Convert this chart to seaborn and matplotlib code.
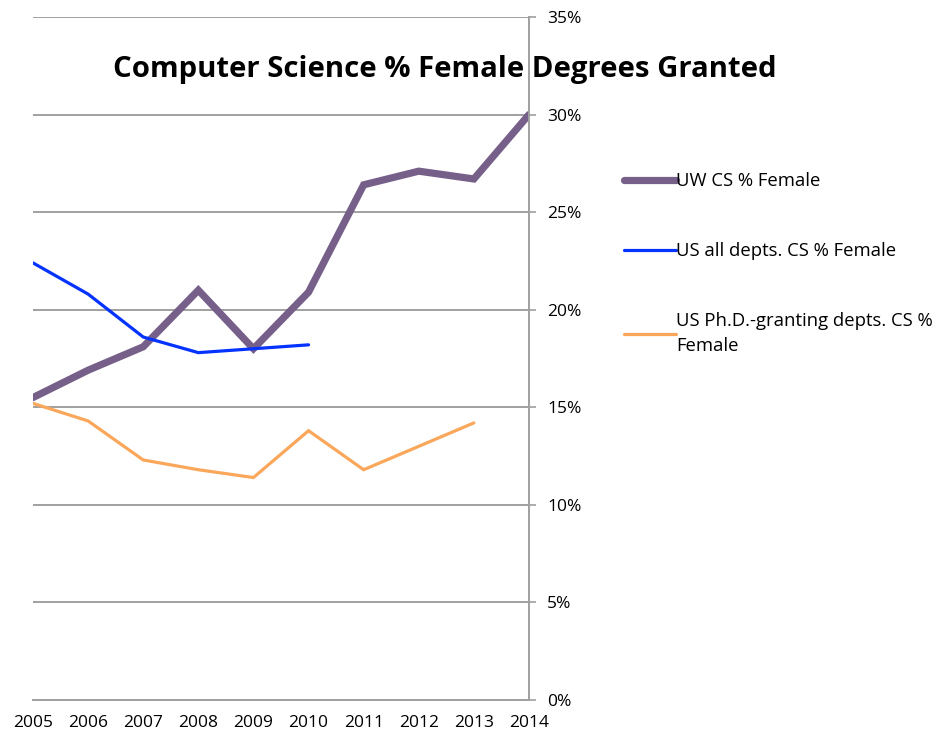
import pandas as pd
import seaborn as sns
import matplotlib.pyplot as plt
import numpy as np
from matplotlib.ticker import FuncFormatter

# Values (percent female)
years = list(range(2005, 2015))
uw_cs = [15.5, 16.9, 18.1, 21.0, 18.0, 20.9, 26.4, 27.1, 26.7, 30.0]
us_all = [22.4, 20.8, 18.6, 17.8, 18.0, 18.2, np.nan, np.nan, np.nan, np.nan]
us_phd = [15.2, 14.3, 12.3, 11.8, 11.4, 13.8, 11.8, 13.0, 14.2, np.nan]

labels = ['UW CS % Female', 'US all depts. CS % Female',
          'US Ph.D.-granting depts. CS %\nFemale']
colors = ['#76608A', '#0433FF', '#FAA75B']
widths = [5.2, 2.3, 2.3]

df = pd.DataFrame({'Year': years, labels[0]: uw_cs, labels[1]: us_all, labels[2]: us_phd})

sns.set_style('white')
plt.rcParams['font.family'] = ['Open Sans', 'DejaVu Sans']
plt.rcParams['text.color'] = 'black'

fig = plt.figure(figsize=(9.42, 7.40), dpi=100)
ax = fig.add_axes([33 / 942, 1 - 700 / 740, (529 - 33) / 942, (700 - 17) / 740])

for lab, col, lw in zip(labels, colors, widths):
    sns.lineplot(data=df, x='Year', y=lab, color=col, linewidth=lw, ax=ax,
                 label=lab, solid_capstyle='round', solid_joinstyle='miter')

ax.set_xlim(2005, 2014)
ax.set_ylim(0, 35)
ax.set_xticks(years)
ax.set_yticks(range(0, 36, 5))
ax.yaxis.set_major_formatter(FuncFormatter(lambda v, p: f'{int(v)}%'))
ax.yaxis.tick_right()
ax.set_xlabel('')
ax.set_ylabel('')

ax.grid(axis='y', color='#A0A0A0', linewidth=1.4)
ax.grid(axis='x', visible=False)
ax.set_axisbelow(True)
for s in ['left', 'top']:
    ax.spines[s].set_visible(False)
for s in ['right', 'bottom']:
    ax.spines[s].set_color('#A0A0A0')
    ax.spines[s].set_linewidth(1.4)
ax.tick_params(axis='both', which='both', direction='out', length=5, width=1.2,
               color='#A0A0A0', labelsize=12.5, labelcolor='black')
ax.tick_params(axis='x', pad=6)
ax.tick_params(axis='y', pad=8)

fig.text(445 / 942, 1 - 69 / 740, 'Computer Science % Female Degrees Granted',
         ha='center', va='center', fontsize=21.1, fontweight='bold', color='black')

leg = ax.legend(loc='upper left', bbox_to_anchor=(617 / 942, 1 - 165 / 740),
                bbox_transform=fig.transFigure, frameon=False, fontsize=13.3,
                handlelength=2.8, handletextpad=0.0, labelspacing=2.8,
                borderaxespad=0)
for t in leg.get_texts():
    t.set_linespacing(1.5)

plt.savefig('out.png', dpi=100)
